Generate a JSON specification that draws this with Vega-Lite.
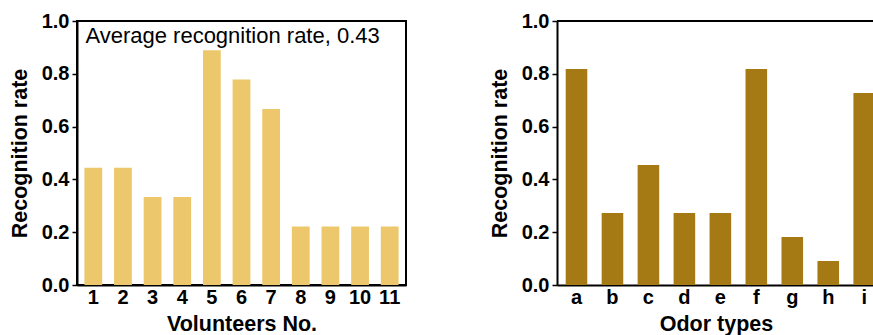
{
  "$schema": "https://vega.github.io/schema/vega-lite/v6.json",
  "padding": {"left": 8, "top": 10, "right": 0, "bottom": 0},
  "spacing": 151,
  "bounds": "flush",
  "config": {
    "font": "Liberation Sans",
    "view": {"stroke": null},
    "axis": {
      "labelFont": "Liberation Sans", "labelFontSize": 20, "labelFontWeight": "bold", "labelColor": "#000",
      "titleFont": "Liberation Sans", "titleFontSize": 21.5, "titleFontWeight": "bold", "titleColor": "#000",
      "domainColor": "#000", "domainWidth": 2, "tickColor": "#000", "tickWidth": 1.5, "grid": false, "zindex": 1
    }
  },
  "hconcat": [
    {
      "width": 329, "height": 264,
      "view": {"stroke": "#000", "strokeWidth": 2},
      "data": {"values": [
        {"volunteer": 1, "rate": 0.444},
        {"volunteer": 2, "rate": 0.444},
        {"volunteer": 3, "rate": 0.333},
        {"volunteer": 4, "rate": 0.333},
        {"volunteer": 5, "rate": 0.889},
        {"volunteer": 6, "rate": 0.778},
        {"volunteer": 7, "rate": 0.667},
        {"volunteer": 8, "rate": 0.222},
        {"volunteer": 9, "rate": 0.222},
        {"volunteer": 10, "rate": 0.222},
        {"volunteer": 11, "rate": 0.222}
      ]},
      "layer": [
        {
          "mark": {"type": "bar", "color": "#EDC76B"},
          "encoding": {
            "x": {"field": "volunteer", "type": "ordinal", "scale": {"paddingInner": 0.4, "paddingOuter": 0.25},
                  "axis": {"title": "Volunteers No.", "labelAngle": 0, "tickSize": -5, "labelPadding": 7, "titlePadding": 6}},
            "y": {"field": "rate", "type": "quantitative", "scale": {"domain": [0, 1], "nice": false},
                  "axis": {"title": "Recognition rate", "values": [0, 0.2, 0.4, 0.6, 0.8, 1.0], "format": ".1f", "tickSize": 5, "labelPadding": 3, "titlePadding": 10}}
          }
        },
        {
          "data": {"values": [{"volunteer": 1, "rate": 0.916, "label": "Average recognition rate, 0.43"}]},
          "mark": {"type": "text", "align": "left", "baseline": "alphabetic", "fontSize": 22, "fontWeight": "normal", "font": "Liberation Sans", "color": "#000", "dx": 1},
          "encoding": {
            "x": {"field": "volunteer", "type": "ordinal", "bandPosition": 0},
            "y": {"field": "rate", "type": "quantitative"},
            "text": {"field": "label"}
          }
        }
      ]
    },
    {
      "width": 318, "height": 264,
      "data": {"values": [
        {"odor": "a", "rate": 0.818},
        {"odor": "b", "rate": 0.273},
        {"odor": "c", "rate": 0.455},
        {"odor": "d", "rate": 0.273},
        {"odor": "e", "rate": 0.273},
        {"odor": "f", "rate": 0.818},
        {"odor": "g", "rate": 0.182},
        {"odor": "h", "rate": 0.091},
        {"odor": "i", "rate": 0.727}
      ]},
      "layer": [
        {
          "mark": {"type": "bar", "color": "#A57A14"},
          "encoding": {
            "x": {"field": "odor", "type": "nominal", "scale": {"paddingInner": 0.4, "paddingOuter": 0.121, "align": 1},
                  "axis": {"title": "Odor types", "labelAngle": 0, "tickSize": -5, "labelPadding": 7, "titlePadding": 6}},
            "y": {"field": "rate", "type": "quantitative", "scale": {"domain": [0, 1], "nice": false},
                  "axis": {"title": "Recognition rate", "values": [0, 0.2, 0.4, 0.6, 0.8, 1.0], "format": ".1f", "tickSize": 5, "labelPadding": 3, "titlePadding": 10}}
          }
        },
        {
          "mark": {"type": "rule", "color": "#000", "strokeWidth": 2},
          "encoding": {
            "y": {"datum": 1}
          }
        }
      ]
    }
  ]
}
